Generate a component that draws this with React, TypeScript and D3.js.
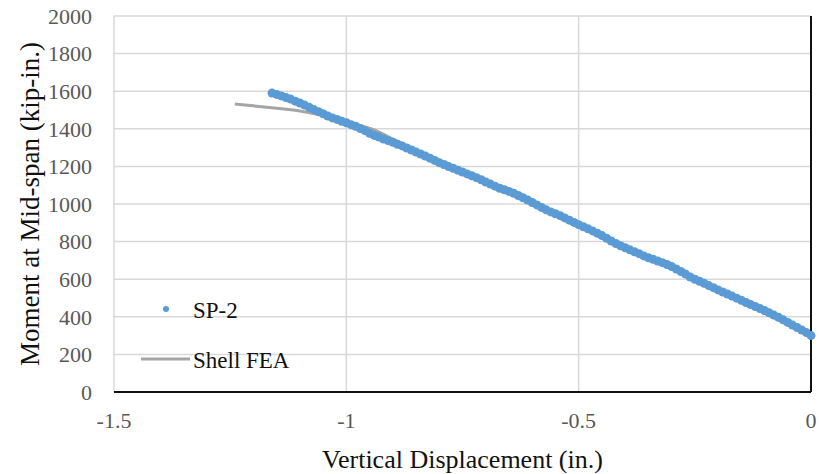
import * as d3 from 'd3';
import React, { useEffect, useRef } from 'react';

// SP-2 test readings (displacement in., moment kip-in.)
const sp2Disp = [
  -1.16, -1.15, -1.14, -1.13, -1.12, -1.11, -1.10, -1.09, -1.08, -1.07,
  -1.06, -1.05, -1.04, -1.03, -1.02, -1.01, -1.00, -0.99, -0.98, -0.97,
  -0.96, -0.95, -0.94, -0.93, -0.92, -0.91, -0.90, -0.89, -0.88, -0.87,
  -0.86, -0.85, -0.84, -0.83, -0.82, -0.81, -0.80, -0.79, -0.78, -0.77,
  -0.76, -0.75, -0.74, -0.73, -0.72, -0.71, -0.70, -0.69, -0.68, -0.67,
  -0.66, -0.65, -0.64, -0.63, -0.62, -0.61, -0.60, -0.59, -0.58, -0.57,
  -0.56, -0.55, -0.54, -0.53, -0.52, -0.51, -0.50, -0.49, -0.48, -0.47,
  -0.46, -0.45, -0.44, -0.43, -0.42, -0.41, -0.40, -0.39, -0.38, -0.37,
  -0.36, -0.35, -0.34, -0.33, -0.32, -0.31, -0.30, -0.29, -0.28, -0.27,
  -0.26, -0.25, -0.24, -0.23, -0.22, -0.21, -0.20, -0.19, -0.18, -0.17,
  -0.16, -0.15, -0.14, -0.13, -0.12, -0.11, -0.10, -0.09, -0.08, -0.07,
  -0.06, -0.05, -0.04, -0.03, -0.02, -0.01, 0.00,
];
const sp2Moment = [
  1590, 1583, 1575, 1566, 1558, 1547, 1537, 1526, 1514, 1502,
  1491, 1480, 1468, 1458, 1450, 1440, 1432, 1422, 1413, 1401,
  1390, 1376, 1365, 1356, 1346, 1337, 1328, 1318, 1309, 1298,
  1287, 1276, 1266, 1255, 1244, 1232, 1220, 1210, 1199, 1190,
  1180, 1170, 1160, 1150, 1140, 1129, 1117, 1106, 1095, 1084,
  1076, 1067, 1057, 1045, 1033, 1021, 1008, 995, 982, 969,
  958, 948, 938, 926, 914, 902, 890, 879, 868, 857,
  845, 832, 818, 803, 790, 778, 767, 756, 746, 736,
  724, 714, 706, 697, 688, 678, 667, 654, 641, 627,
  612, 600, 589, 578, 566, 555, 543, 532, 521, 510,
  499, 488, 476, 465, 455, 444, 433, 421, 409, 397,
  384, 370, 356, 343, 330, 316, 300,
];

// Shell FEA curve
const feaDisp = [-1.24, -1.2, -1.15, -1.1, -1.06, -1.02, -0.98, -0.94, -0.9, -0.8, -0.6, -0.4, -0.2, 0];
const feaMoment = [1532, 1522, 1509, 1495, 1476, 1452, 1425, 1394, 1345, 1232, 1010, 772, 540, 300];

const xTicks = [-1.5, -1, -0.5, 0];
const yTicks = [0, 200, 400, 600, 800, 1000, 1200, 1400, 1600, 1800, 2000];

const W = 819;
const H = 474;
const margin = { top: 16, right: 8, bottom: 82, left: 114 };
const FONT = '"Liberation Serif", "Times New Roman", serif';

const App = () => {
  const ref = useRef<SVGSVGElement | null>(null);

  useEffect(() => {
    const svg = d3.select(ref.current);
    svg.selectAll('*').remove();

    const x = d3.scaleLinear().domain([-1.5, 0]).range([margin.left, W - margin.right]);
    const y = d3.scaleLinear().domain([0, 2000]).range([H - margin.bottom, margin.top]);

    // gridlines
    svg.append('g')
      .selectAll('line')
      .data(yTicks.filter(d => d > 0))
      .enter().append('line')
      .attr('x1', x(-1.5)).attr('x2', x(0))
      .attr('y1', d => y(d)).attr('y2', d => y(d))
      .attr('stroke', '#d9d9d9').attr('stroke-width', 1.5);

    svg.append('g')
      .selectAll('line')
      .data(xTicks.filter(d => d < 0))
      .enter().append('line')
      .attr('x1', d => x(d)).attr('x2', d => x(d))
      .attr('y1', y(0)).attr('y2', y(2000))
      .attr('stroke', '#d9d9d9').attr('stroke-width', 1.5);

    // right border and bottom axis
    svg.append('line')
      .attr('x1', x(0)).attr('x2', x(0))
      .attr('y1', y(0)).attr('y2', y(2000))
      .attr('stroke', '#111').attr('stroke-width', 2);
    svg.append('line')
      .attr('x1', x(-1.5)).attr('x2', x(0))
      .attr('y1', y(0)).attr('y2', y(0))
      .attr('stroke', '#111').attr('stroke-width', 2);

    // tick labels
    svg.append('g')
      .selectAll('text')
      .data(yTicks)
      .enter().append('text')
      .attr('x', x(-1.5) - 22)
      .attr('y', d => y(d))
      .attr('dy', '0.35em')
      .attr('text-anchor', 'end')
      .attr('fill', '#595959')
      .style('font-family', FONT)
      .style('font-size', '22px')
      .text(d => d);

    svg.append('g')
      .selectAll('text')
      .data(xTicks)
      .enter().append('text')
      .attr('x', d => x(d))
      .attr('y', y(0) + 28)
      .attr('dy', '0.35em')
      .attr('text-anchor', 'middle')
      .attr('fill', '#595959')
      .style('font-family', FONT)
      .style('font-size', '22px')
      .text(d => d);

    // Shell FEA
    const pts: [number, number][] = feaDisp.map((d, i) => [d, feaMoment[i]]);
    svg.append('path')
      .datum(pts)
      .attr('fill', 'none')
      .attr('stroke', '#a5a5a5')
      .attr('stroke-width', 3)
      .attr('d', d3.line<[number, number]>()
        .curve(d3.curveMonotoneX)
        .x(d => x(d[0]))
        .y(d => y(d[1])));

    // SP-2 points
    svg.append('g')
      .selectAll('circle')
      .data(sp2Disp.map((d, i) => [d, sp2Moment[i]]))
      .enter().append('circle')
      .attr('cx', d => x(d[0]))
      .attr('cy', d => y(d[1]))
      .attr('r', 4.5)
      .attr('fill', '#5b9bd5');

    // legend
    svg.append('circle')
      .attr('cx', 166).attr('cy', 309).attr('r', 3)
      .attr('fill', '#5b9bd5');
    svg.append('text')
      .attr('x', 193).attr('y', 310).attr('dy', '0.35em')
      .attr('fill', '#111')
      .style('font-family', FONT).style('font-size', '23px')
      .text('SP-2');
    svg.append('line')
      .attr('x1', 141).attr('x2', 190).attr('y1', 359).attr('y2', 359)
      .attr('stroke', '#a5a5a5').attr('stroke-width', 3);
    svg.append('text')
      .attr('x', 193).attr('y', 360).attr('dy', '0.35em')
      .attr('fill', '#111')
      .style('font-family', FONT).style('font-size', '23px')
      .text('Shell FEA');

    // axis titles
    svg.append('text')
      .attr('x', (x(-1.5) + x(0)) / 2)
      .attr('y', 459)
      .attr('dy', '0.35em')
      .attr('text-anchor', 'middle')
      .attr('fill', '#111')
      .style('font-family', FONT).style('font-size', '26px')
      .text('Vertical Displacement (in.)');

    svg.append('text')
      .attr('transform', `translate(30,${(y(0) + y(2000)) / 2}) rotate(-90)`)
      .attr('dy', '0.35em')
      .attr('text-anchor', 'middle')
      .attr('fill', '#111')
      .style('font-family', FONT).style('font-size', '27px')
      .text('Moment at Mid-span (kip-in.)');
  }, []);

  return (
    <svg
      ref={ref}
      width={W}
      height={H}
      style={{ position: 'absolute', left: 0, top: 0, background: '#fff' }}
    />
  );
};

export default App;
